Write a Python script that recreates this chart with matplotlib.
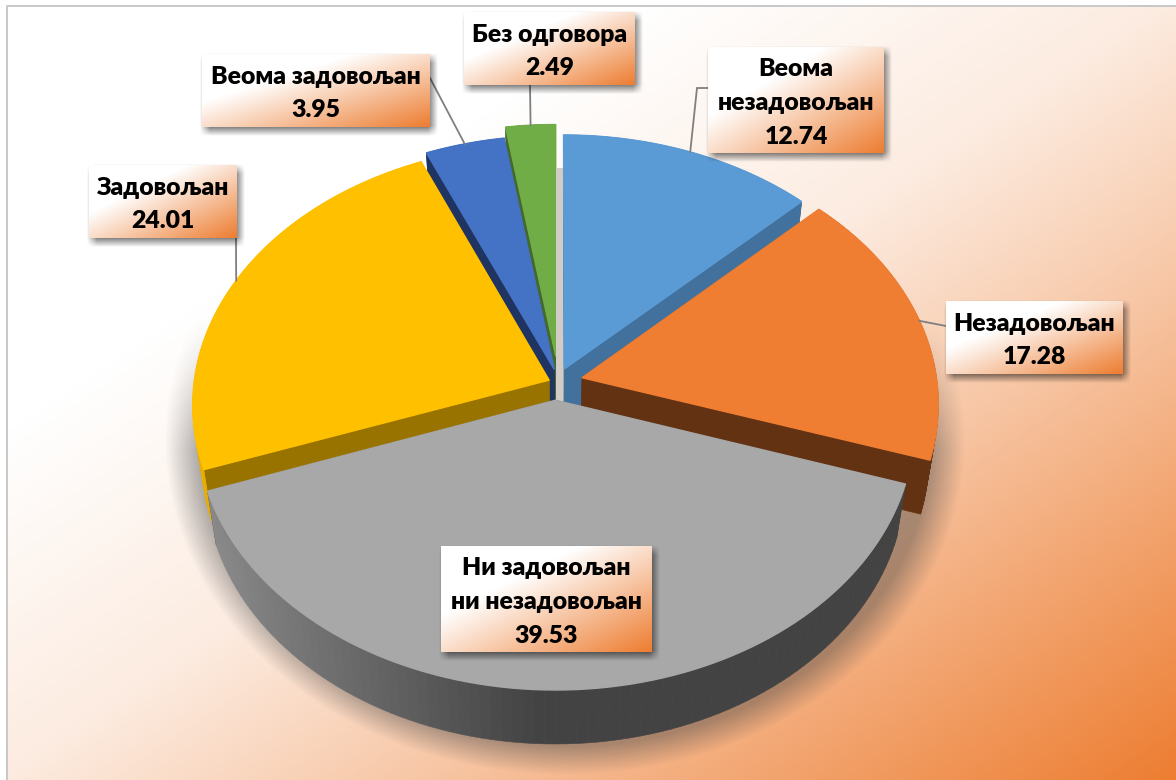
import numpy as np
import matplotlib
matplotlib.use("Agg")
import matplotlib.pyplot as plt
from matplotlib.colors import to_rgb

plt.rcParams['font.family'] = ['Lato', 'Noto Sans', 'DejaVu Sans']

# --- data -------------------------------------------------------------
categories = ["Веома\nнезадовољан", "Незадовољан", "Ни задовољан\nни незадовољан",
              "Задовољан", "Веома задовољан", "Без одговора"]
values = [12.74, 17.28, 39.53, 24.01, 3.95, 2.49]

# --- style / layout ---------------------------------------------------
top_colors = ["#5B9BD5", "#F07E32", "#A8A8A8", "#FFC000", "#4472C4", "#70AD47"]
rim_colors = ["#41719C", "#633213", None, "#E8AE00", "#2F5597", "#507E32"]
cut_colors = ["#41719C", "#633213", "#444444", "#997300", "#1F3461", "#44692B"]
explode = [0.055, 0.073, 0.07, 0.018, 0.05, 0.10]
nudge_x = [0.005, 0.005, 0, 0, 0.012, 0.010]
draw_order = [5, 4, 0, 3, 1, 2]
label_boxes = [(708, 47, 884, 153), (946, 301, 1123, 374), (441, 546, 652, 652),
               (89, 165, 237, 238), (202, 54, 430, 127), (464, 12, 635, 85)]
leader_via = [[(697, 88), (708, 88)], [(946, 326)], None,
              [(236, 238)], [(430, 78)], [(530, 85)]]

W, H = 1176, 780
CX, CY, R, RK, PERSP = 555.0, 382.0, 355.0, 258.6, 0.095
DEPTH, SHRINK = 54.0, 0.975
ORANGE = np.array(to_rgb("#ED7D31"))
WHITE = np.ones(3)


def project(X, Y, bottom=False):
    X, Y = np.asarray(X, float), np.asarray(Y, float)
    s = 1.0 / (1.0 + PERSP * Y)
    x = R * X * s
    y = CY - RK * Y * s
    if bottom:
        return CX + x * SHRINK, y + DEPTH
    return CX + x, y


fig = plt.figure(figsize=(W / 100, H / 100), dpi=100, facecolor="white")
ax = fig.add_axes([0, 0, 1, 1])
ax.axis("off")

# background gradient
px, py = np.meshgrid(np.arange(W) + .5, np.arange(H) + .5)
t = (px / W + py / H) / 2
frac = np.interp(t, [0.28, 0.5, 0.68, 0.82, 1.0], [0, 0.15, 0.44, 0.69, 1.0])
bg = WHITE + (ORANGE - WHITE) * frac[..., None]
ax.imshow(bg, extent=(0, W, H, 0), aspect="auto", zorder=0, interpolation="bilinear")
ax.fill([0, 6, 6, 0], [0, 0, H, H], color="white", zorder=0.5, lw=0)
ax.fill([0, W, W, 0], [0, 0, 5, 5], color="white", zorder=0.5, lw=0)
ax.plot([6.5, 6.5, W], [H, 5.5, 5.5], color="#C8C8C8", lw=1.4, zorder=0.6)

# soft shadow under the pie
e = np.sqrt(((px - 565) / 400) ** 2 + ((py - 440) / 335) ** 2)
alpha = 0.42 * np.clip((1.0 - e) / 0.085, 0, 1) * np.clip((py - 320) / 130, 0, 1)
sh = np.zeros((H, W, 4))
sh[..., :3] = 0.25
sh[..., 3] = alpha
ax.imshow(sh, extent=(0, W, H, 0), aspect="auto", zorder=1, interpolation="bilinear")

# slices
total = sum(values)
edges = np.concatenate([[0], np.cumsum(values)]) / total * 2 * np.pi
z = 2.0
mids = []
for i in range(len(values)):
    mid = (edges[i] + edges[i + 1]) / 2
    ox, oy = explode[i] * np.sin(mid) + nudge_x[i], explode[i] * np.cos(mid)
    mids.append((np.sin(mid) + ox, np.cos(mid) + oy))

for i in draw_order:
    if i == 0:
        # pale sliver of the far wall between the first and last slice
        x0, _ = project(0.0, 0.0)
        ax.fill([x0 + 1, x0 + 8, x0 + 8, x0 + 1], [168, 168, 405, 405],
                color="#D3CCC6", lw=0, zorder=z)
        z += 0.01
    mid = (edges[i] + edges[i + 1]) / 2
    ox, oy = explode[i] * np.sin(mid) + nudge_x[i], explode[i] * np.cos(mid)
    ang = np.linspace(edges[i], edges[i + 1], 90)
    XS = np.concatenate([[ox], np.sin(ang) + ox, [ox]])
    YS = np.concatenate([[oy], np.cos(ang) + oy, [oy]])
    segs = []
    for k in range(len(XS) - 1):
        segs.append((0.5 * (YS[k] + YS[k + 1]), k))
    segs.sort(reverse=True)
    for _, k in segs:
        qx = XS[[k, k + 1]]
        qy = YS[[k, k + 1]]
        tx, ty = project(qx, qy)
        bx, by = project(qx, qy, bottom=True)
        radial = k == 0 or k == len(XS) - 2
        if radial:
            c = cut_colors[i]
        elif rim_colors[i] is None:
            f = np.clip((qx.mean() + 0.95) / 0.9, 0, 1)
            c = tuple(np.array(to_rgb("#8C8C8C")) * (1 - f) + np.array(to_rgb("#434343")) * f)
        else:
            c = rim_colors[i]
        ax.fill([tx[0], tx[1], bx[1], bx[0]], [ty[0], ty[1], by[1], by[0]],
                color=c, lw=0.4, zorder=z)
    z += 0.01
    tx, ty = project(XS, YS)
    ax.fill(tx, ty, facecolor=top_colors[i], edgecolor=top_colors[i], lw=1.0, zorder=z)
    z += 0.01

# leaders, computed from each slice's mid-angle rim point
for i, via in enumerate(leader_via):
    if via is None:
        continue
    sx, sy = project(mids[i][0], mids[i][1])
    ax.plot([float(sx)] + [p[0] for p in via], [float(sy)] + [p[1] for p in via],
            color="#7F7F7F", lw=1.3, zorder=5, solid_joinstyle="miter")


def label_box(box, text):
    x0, y0, x1, y1 = box
    # shadow
    pad, b = 12, 5
    sx0, sy0, sx1, sy1 = x0 + 3, y0 + 4, x1 + 3, y1 + 4
    gx, gy = np.meshgrid(np.arange(sx0 - pad, sx1 + pad) + .5, np.arange(sy0 - pad, sy1 + pad) + .5)
    a = (np.clip((gx - sx0 + b) / (2 * b), 0, 1) * np.clip((sx1 - gx + b) / (2 * b), 0, 1) *
         np.clip((gy - sy0 + b) / (2 * b), 0, 1) * np.clip((sy1 - gy + b) / (2 * b), 0, 1))
    img = np.zeros(a.shape + (4,))
    img[..., 3] = 0.55 * a
    ax.imshow(img, extent=(sx0 - pad, sx1 + pad, sy1 + pad, sy0 - pad), aspect="auto",
              zorder=6, interpolation="bilinear")
    # gradient face
    u, v = np.meshgrid(np.linspace(0, 1, x1 - x0), np.linspace(0, 1, y1 - y0))
    tb = (u + v) / 2
    f = np.clip((tb - 0.33) / 0.67, 0, 1)[..., None]
    ax.imshow(WHITE + (ORANGE - WHITE) * f, extent=(x0, x1, y1, y0), aspect="auto",
              zorder=7, interpolation="bilinear")
    ax.text((x0 + x1) / 2, (y0 + y1) / 2 + 3, text, ha="center", va="center",
            ma="center", fontsize=17.8, fontweight=800, color="black",
            linespacing=1.66, zorder=8)


for i, cat in enumerate(categories):
    label_box(label_boxes[i], f"{cat}\n{values[i]:.2f}")

ax.set_xlim(0, W)
ax.set_ylim(H, 0)
fig.savefig("out.png", dpi=100)
